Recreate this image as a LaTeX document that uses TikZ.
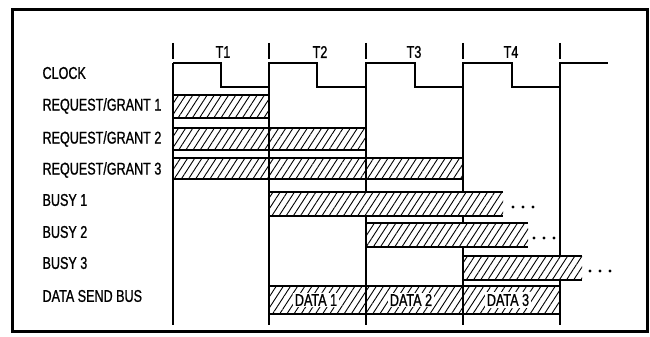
\documentclass[tikz,border=0pt]{standalone}
\usepackage{fontspec}
\setmainfont{Liberation Sans}[FakeStretch=0.74, FakeBold=1]
\usetikzlibrary{patterns.meta}

\tikzset{
  hatchbar/.style={fill=white, postaction={pattern={Lines[angle=57, distance=6pt, line width=0.9pt]}}},
  signal/.style={font=\fontsize{17}{17}\selectfont, anchor=west, inner sep=0},
  period/.style={font=\fontsize{17}{17}\selectfont, inner sep=0},
  datalabel/.style={font=\fontsize{17}{17}\selectfont, fill=white, inner sep=1.5pt},
}

\begin{document}
\begin{tikzpicture}[x=1pt, y=-1pt, line width=1.1pt]
\useasboundingbox (0,0) rectangle (650,337);
\draw[line width=3pt] (12,10) rectangle (647,331);

\foreach \x in {173,269,366,463,560} {
  \draw (\x,43) -- (\x,59);
  \draw (\x,63) -- (\x,325);
}

\node[period] (periodOne) at (223,52) {T1};
\node[period] (periodTwo) at (320,52) {T2};
\node[period] (periodThree) at (414,52) {T3};
\node[period] (periodFour) at (511,52) {T4};

\draw[line width=1.5pt] (173,63) -- (221,63) -- (221,87) -- (269,87) -- (269,63) -- (317,63) -- (317,87) -- (366,87) -- (366,63) -- (415,63) -- (415,87) -- (463,87) -- (463,63) -- (512,63) -- (512,87) -- (560,87) -- (560,63) -- (608,63);

\node[signal] (clockLabel) at (42,73) {CLOCK};
\node[signal] (requestOneLabel) at (42,106) {REQUEST/GRANT 1};
\node[signal] (requestTwoLabel) at (42,139) {REQUEST/GRANT 2};
\node[signal] (requestThreeLabel) at (42,170) {REQUEST/GRANT 3};
\node[signal] (busyOneLabel) at (42,200) {BUSY 1};
\node[signal] (busyTwoLabel) at (42,232) {BUSY 2};
\node[signal] (busyThreeLabel) at (42,263) {BUSY 3};
\node[signal] (dataBusLabel) at (42,296) {DATA SEND BUS};

\draw[line width=1.6pt, hatchbar] (173,95) rectangle (269,118);

\draw[line width=1.6pt, hatchbar] (173,128) rectangle (366,150);
\draw (269,128) -- (269,150);

\draw[line width=1.6pt, hatchbar] (173,158) rectangle (463,179);
\draw (269,158) -- (269,179);
\draw (366,158) -- (366,179);

\fill[hatchbar] (269,192) rectangle (503,216);
\draw[line width=1.6pt] (503,192) -- (269,192) -- (269,216) -- (503,216);
\foreach \x in {513,523,533} \fill (\x,207) circle (1.7pt);

\fill[hatchbar] (366,223) rectangle (528,247);
\draw[line width=1.6pt] (528,223) -- (366,223) -- (366,247) -- (528,247);
\foreach \x in {534,544,554} \fill (\x,238) circle (1.7pt);

\fill[hatchbar] (463,256) rectangle (582,280);
\draw[line width=1.6pt] (582,256) -- (463,256) -- (463,280) -- (582,280);
\foreach \x in {590,600,610} \fill (\x,271) circle (1.7pt);

\draw[line width=1.6pt, hatchbar] (269,286) rectangle (560,314);
\draw (366,286) -- (366,314);
\draw (463,286) -- (463,314);
\node[datalabel] (dataOne) at (316,300) {DATA 1};
\node[datalabel] (dataTwo) at (411,300) {DATA 2};
\node[datalabel] (dataThree) at (508,300) {DATA 3};

\end{tikzpicture}
\end{document}
